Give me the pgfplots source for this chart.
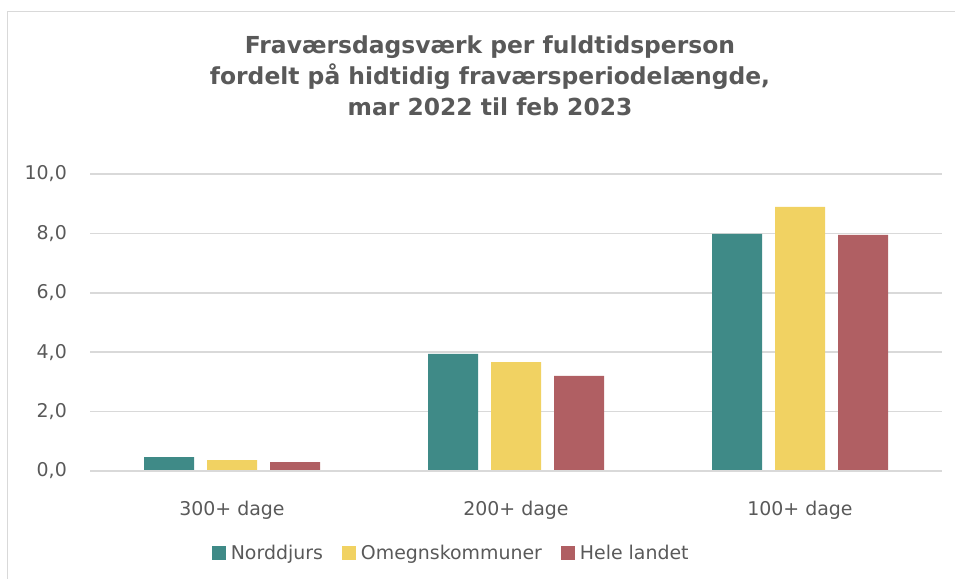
\documentclass[border=0pt]{standalone}
\usepackage{pgfplots}
\pgfplotsset{compat=1.18}
\usepackage{fontspec}
\setmainfont{DejaVu Sans}
\definecolor{cteal}{HTML}{3F8A87}
\definecolor{cyellow}{HTML}{F1D262}
\definecolor{cred}{HTML}{B05F63}
\definecolor{ctext}{HTML}{595959}
\definecolor{cgrid}{HTML}{D9D9D9}
\begin{document}
\begin{tikzpicture}
\path[use as bounding box] (0bp,0bp) rectangle (955bp,579bp);
\draw[cgrid, line width=1.5bp] (7.5bp,0bp) -- (7.5bp,567.5bp) -- (955bp,567.5bp);
\node[text=ctext, font=\bfseries\fontsize{23.5}{31}\selectfont, align=center, anchor=center] at (490bp,503bp)
  {Fraværsdagsværk per fuldtidsperson\\fordelt på hidtidig fraværsperiodelængde,\\mar 2022 til feb 2023};
\begin{axis}[
  at={(90bp,108bp)}, anchor=south west,
  scale only axis, width=852bp, height=297bp,
  xmin=-0.5, xmax=2.5, ymin=0, ymax=10,
  ytick={0,2,4,6,8,10},
  xtick={0,1,2},
  xticklabels={300+ dage,200+ dage,100+ dage},
  ybar=13bp, bar width=50bp,
  axis line style={draw=none},
  major tick length=0pt,
  ymajorgrids, grid style={cgrid, line width=1.7bp},
  tick label style={text=ctext, font=\fontsize{19}{22}\selectfont},
  yticklabel style={anchor=east, inner sep=0pt, xshift=-23bp},
  xticklabel style={anchor=base, inner sep=0pt, yshift=-44bp},
  /pgf/number format/assume math mode=true,
  /pgf/number format/.cd, use comma, fixed, fixed zerofill, precision=1, /pgfplots/.cd,
  legend style={at={(0.424,-0.276)}, anchor=center, draw=none, fill=none,
    font=\fontsize{19}{22}\selectfont, text=ctext, legend columns=3,
    /tikz/every odd column/.append style={column sep=3bp},
    /tikz/every even column/.append style={column sep=17bp}},
  legend image code/.code={\fill[#1] (0bp,-7bp) rectangle (14bp,7bp);},
  clip=false,
]
\addplot[draw=none, fill=cteal] coordinates {(0,0.47) (1,3.94) (2,7.98)};
\addplot[draw=none, fill=cyellow] coordinates {(0,0.37) (1,3.67) (2,8.89)};
\addplot[draw=none, fill=cred] coordinates {(0,0.30) (1,3.20) (2,7.95)};
\draw[cgrid, line width=2.2bp] (axis cs:-0.5,0) -- (axis cs:2.5,0);
\legend{Norddjurs,Omegnskommuner,Hele landet}
\end{axis}
\end{tikzpicture}
\end{document}
